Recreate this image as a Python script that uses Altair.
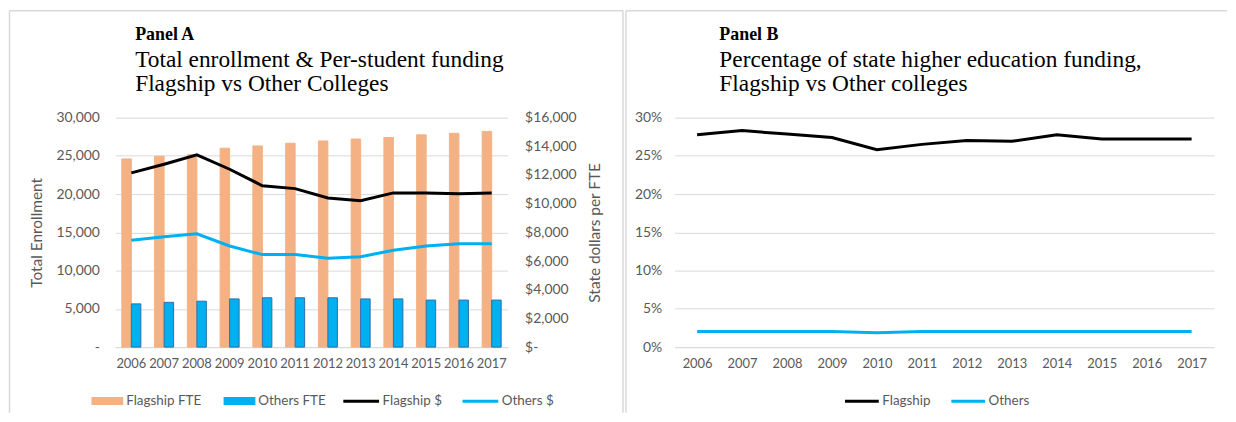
import altair as alt
import pandas as pd

years = ["2006", "2007", "2008", "2009", "2010", "2011", "2012", "2013", "2014", "2015", "2016", "2017"]
flagship_fte = [24600, 24950, 25150, 26000, 26300, 26650, 26950, 27200, 27400, 27750, 27950, 28200]
others_fte = [5650, 5850, 6000, 6300, 6450, 6450, 6450, 6300, 6300, 6150, 6150, 6150]
flagship_usd = [12150, 12750, 13400, 12400, 11250, 11050, 10400, 10200, 10750, 10750, 10700, 10750]
others_usd = [7450, 7700, 7900, 7050, 6450, 6450, 6200, 6300, 6750, 7050, 7200, 7200]
flagship_pct = [0.2775, 0.283, 0.2785, 0.274, 0.258, 0.265, 0.270, 0.269, 0.2775, 0.272, 0.272, 0.272]
others_pct = [0.0205, 0.0205, 0.0205, 0.0205, 0.0187, 0.0203, 0.0204, 0.0204, 0.0204, 0.0204, 0.0204, 0.0204]

bar_series = ["Flagship FTE", "Others FTE"]
bar_colors = ["#F4B183", "#00B0F0"]
line_series_a = ["Flagship $", "Others $"]
line_series_b = ["Flagship", "Others"]
line_colors = ["#000000", "#00B0F0"]

title_a = ["Panel A", "Total enrollment & Per-student funding", "Flagship vs Other Colleges"]
title_b = ["Panel B", "Percentage of state higher education funding,", "Flagship vs Other colleges"]

df_bars = pd.DataFrame(
    [{"year": y, "series": bar_series[0], "value": v} for y, v in zip(years, flagship_fte)]
    + [{"year": y, "series": bar_series[1], "value": v} for y, v in zip(years, others_fte)]
)
df_lines_a = pd.DataFrame(
    [{"year": y, "series": line_series_a[0], "value": v} for y, v in zip(years, flagship_usd)]
    + [{"year": y, "series": line_series_a[1], "value": v} for y, v in zip(years, others_usd)]
)
df_b = pd.DataFrame(
    [{"year": y, "series": line_series_b[0], "value": v} for y, v in zip(years, flagship_pct)]
    + [{"year": y, "series": line_series_b[1], "value": v} for y, v in zip(years, others_pct)]
)

GRAY = "#595959"
GRID = "#D9D9D9"
BORDER = "#D9D9D9"
SANS = "Lato"
SERIF = "Liberation Serif"

WA, HA = 395, 231
WB, HB = 543, 231
LEG_Y = 268

one = alt.Data(values=[{"k": 1}])


def border_rules(x0, x1, y0, y1, right=True):
    layers = [
        alt.Chart(one).mark_rule(color=BORDER, strokeWidth=1.5).encode(
            x=alt.value(x0), x2=alt.value(x1), y=alt.value(y0)),
        alt.Chart(one).mark_rule(color=BORDER, strokeWidth=1.5).encode(
            x=alt.value(x0), y=alt.value(y0), y2=alt.value(y1)),
    ]
    if right:
        layers.append(alt.Chart(one).mark_rule(color=BORDER, strokeWidth=1.5).encode(
            x=alt.value(x1), y=alt.value(y0), y2=alt.value(y1)))
    return layers


def title_marks(lines, dx):
    head = alt.Chart(one).mark_text(
        text=lines[0], font=SERIF, fontSize=18, fontWeight="bold", color="black",
        align="left", baseline="alphabetic").encode(x=alt.value(dx), y=alt.value(-78))
    sub1 = alt.Chart(one).mark_text(
        text=lines[1], font=SERIF, fontSize=23.5, color="black",
        align="left", baseline="alphabetic").encode(x=alt.value(dx), y=alt.value(-50.5))
    sub2 = alt.Chart(one).mark_text(
        text=lines[2], font=SERIF, fontSize=23.5, color="black",
        align="left", baseline="alphabetic").encode(x=alt.value(dx), y=alt.value(-27))
    return [head, sub1, sub2]


x_axis = alt.Axis(title=None, labelAngle=0, ticks=False, labelPadding=11, domainColor=GRID,
                  labelFontSize=13, labelOverlap=False, grid=False)

bars = alt.Chart(df_bars).mark_bar(strokeWidth=1).encode(
    x=alt.X("year:O", axis=x_axis, scale=alt.Scale(paddingInner=0.42)),
    xOffset=alt.XOffset("series:N", scale=alt.Scale(domain=bar_series, paddingInner=0)),
    y=alt.Y("value:Q", scale=alt.Scale(domain=[0, 30000], nice=False),
            axis=alt.Axis(title="Total Enrollment", values=list(range(0, 30001, 5000)),
                          labelExpr="datum.value == 0 ? '-\u00a0\u00a0' : format(datum.value, ',')",
                          ticks=False, domain=False, labelPadding=16, titlePadding=12,
                          gridColor=GRID)),
    fill=alt.Fill("series:N", scale=alt.Scale(domain=bar_series, range=bar_colors),
                  legend=alt.Legend(title=None, orient="none", direction="horizontal",
                                    legendX=-24, legendY=LEG_Y + 1,
                                    symbolType="M-1,-0.25H1V0.25H-1Z", symbolSize=1024,
                                    symbolStrokeWidth=0, columnPadding=22)),
    stroke=alt.condition(alt.datum.series == "Others FTE", alt.value("#2F6DAE"), alt.value("#F4B183")),
)

lines_a = alt.Chart(df_lines_a).mark_line(strokeWidth=3).encode(
    x=alt.X("year:O", axis=x_axis),
    y=alt.Y("value:Q", scale=alt.Scale(domain=[0, 16000], nice=False),
            axis=alt.Axis(title="State dollars per FTE", orient="right",
                          values=list(range(0, 16001, 2000)),
                          labelExpr="datum.value == 0 ? '$-' : '$' + format(datum.value, ',')",
                          ticks=False, domain=False, grid=False, labelPadding=17,
                          titleAngle=270, titleBaseline="top", titlePadding=11)),
    stroke=alt.Stroke("series:N", scale=alt.Scale(domain=line_series_a, range=line_colors),
                      legend=alt.Legend(title=None, orient="none", direction="horizontal",
                                        legendX=228, legendY=LEG_Y - 2,
                                        symbolType="M-1,0H1", symbolSize=1296,
                                        symbolStrokeWidth=3, columnPadding=14, labelOffset=2)),
)

panel_a = alt.layer(
    bars, lines_a, *border_rules(-106.5, 511, -107.5, 297), *title_marks(title_a, 20)
).resolve_scale(y="independent").properties(width=WA, height=HA)

lines_b = alt.Chart(df_b).mark_line(strokeWidth=3).encode(
    x=alt.X("year:O", axis=x_axis, scale=alt.Scale(type="point", padding=0.5)),
    y=alt.Y("value:Q", scale=alt.Scale(domain=[0, 0.3], nice=False),
            axis=alt.Axis(title=None, values=[0, 0.05, 0.1, 0.15, 0.2, 0.25, 0.3], format=".0%",
                          ticks=False, domain=False, labelPadding=13, gridColor=GRID)),
    stroke=alt.Stroke("series:N", scale=alt.Scale(domain=line_series_b, range=line_colors),
                      legend=alt.Legend(title=None, orient="none", direction="horizontal",
                                        legendX=170, legendY=LEG_Y - 1,
                                        symbolType="M-1,0H1", symbolSize=1156,
                                        symbolStrokeWidth=3, columnPadding=14, labelOffset=2)),
)

panel_b = alt.layer(
    lines_b, *border_rules(-49, 556, -107.5, 297, right=False), *title_marks(title_b, 45)
).properties(width=WB, height=HB)

chart = alt.hconcat(panel_a, panel_b, spacing=1).resolve_scale(
    stroke="independent", fill="independent"
).properties(padding=0).configure_view(stroke=None).configure_axis(
    labelFont=SANS, labelColor=GRAY, labelFontSize=14,
    titleFont=SANS, titleColor=GRAY, titleFontSize=15.5, titleFontWeight="normal",
).configure_legend(
    labelFont=SANS, labelColor=GRAY, labelFontSize=13.5, labelOffset=3,
)

chart.save("out.html", embed_options={"renderer": "svg", "actions": False})
